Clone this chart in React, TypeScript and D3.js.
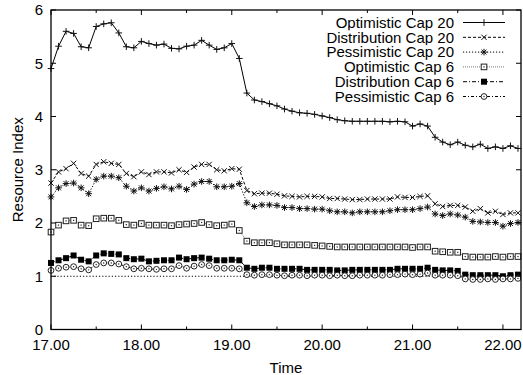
import React from 'react';
import * as d3 from 'd3';

// ---- data (5-minute samples starting at 17.00) ----
const startHour = 17;
const stepHours = 5 / 60;

const optimisticCap20 = [
  4.90, 5.32, 5.60, 5.56, 5.31, 5.29, 5.69, 5.74, 5.76, 5.57, 5.31, 5.29, 5.41, 5.37, 5.34, 5.36,
  5.28, 5.27, 5.32, 5.34, 5.43, 5.34, 5.26, 5.29, 5.37, 5.09,
  4.44, 4.31, 4.28, 4.24, 4.20, 4.14, 4.10, 4.07, 4.06, 4.04, 4.01, 3.98, 3.94, 3.92, 3.91, 3.91,
  3.91, 3.91, 3.91, 3.90, 3.91, 3.90, 3.82, 3.86, 3.82, 3.61, 3.52, 3.47, 3.52, 3.46, 3.43, 3.48,
  3.40, 3.43, 3.40, 3.45, 3.40,
];
const distributionCap20 = [
  2.75, 2.96, 3.02, 3.12, 2.93, 2.88, 3.10, 3.15, 3.12, 3.10, 2.93, 2.87, 2.96, 2.91, 2.96, 2.96,
  2.94, 3.00, 2.95, 3.05, 3.10, 3.10, 3.00, 2.98, 3.02, 3.01,
  2.61, 2.55, 2.56, 2.56, 2.54, 2.51, 2.50, 2.49, 2.50, 2.50, 2.49, 2.46, 2.46, 2.45, 2.44, 2.44,
  2.45, 2.45, 2.45, 2.45, 2.49, 2.48, 2.48, 2.50, 2.51, 2.36, 2.31, 2.33, 2.33, 2.30, 2.22, 2.27,
  2.19, 2.22, 2.16, 2.19, 2.19,
];
const pessimisticCap20 = [
  2.49, 2.66, 2.74, 2.75, 2.66, 2.55, 2.82, 2.88, 2.88, 2.85, 2.69, 2.60, 2.66, 2.60, 2.65, 2.68,
  2.64, 2.69, 2.63, 2.73, 2.78, 2.78, 2.68, 2.68, 2.69, 2.74,
  2.38, 2.31, 2.34, 2.34, 2.33, 2.29, 2.29, 2.27, 2.27, 2.26, 2.26, 2.23, 2.21, 2.21, 2.19, 2.21,
  2.21, 2.21, 2.21, 2.23, 2.25, 2.25, 2.25, 2.27, 2.30, 2.17, 2.14, 2.17, 2.15, 2.11, 2.03, 2.02,
  2.01, 2.01, 1.94, 1.99, 2.01,
];
const optimisticCap6 = [
  1.83, 1.96, 2.04, 2.05, 1.96, 1.95, 2.08, 2.09, 2.09, 2.05, 1.97, 1.96, 1.99, 1.96, 1.96, 1.96,
  1.95, 1.97, 1.98, 1.99, 2.01, 1.97, 1.95, 1.96, 1.98, 1.86,
  1.66, 1.63, 1.63, 1.63, 1.61, 1.59, 1.59, 1.59, 1.59, 1.58, 1.57, 1.56, 1.55, 1.55, 1.55, 1.55,
  1.55, 1.55, 1.55, 1.55, 1.55, 1.55, 1.54, 1.55, 1.55, 1.47, 1.46, 1.45, 1.45, 1.37, 1.36, 1.36,
  1.36, 1.37, 1.36, 1.37, 1.37,
];
const distributionCap6 = [
  1.25, 1.30, 1.34, 1.39, 1.31, 1.28, 1.39, 1.43, 1.42, 1.41, 1.34, 1.32, 1.33, 1.28, 1.29, 1.30,
  1.30, 1.35, 1.32, 1.34, 1.35, 1.33, 1.30, 1.30, 1.31, 1.30,
  1.16, 1.14, 1.16, 1.16, 1.14, 1.14, 1.14, 1.14, 1.12, 1.12, 1.12, 1.12, 1.11, 1.11, 1.12, 1.12,
  1.12, 1.12, 1.12, 1.12, 1.14, 1.14, 1.14, 1.14, 1.16, 1.12, 1.11, 1.11, 1.10, 1.03, 1.02, 1.02,
  1.02, 1.02, 1.00, 1.02, 1.03,
];
const pessimisticCap6 = [
  1.11, 1.15, 1.17, 1.18, 1.14, 1.12, 1.22, 1.25, 1.25, 1.23, 1.18, 1.14, 1.15, 1.14, 1.13, 1.14,
  1.14, 1.20, 1.15, 1.19, 1.22, 1.20, 1.15, 1.15, 1.15, 1.14,
  1.03, 1.02, 1.03, 1.03, 1.02, 1.01, 1.02, 1.02, 1.01, 1.02, 1.02, 1.01, 1.02, 1.01, 1.01, 1.02,
  1.02, 1.02, 1.02, 1.03, 1.03, 1.04, 1.03, 1.04, 1.06, 1.02, 1.02, 1.02, 1.01, 0.95, 0.94, 0.94,
  0.95, 0.94, 0.95, 0.95, 0.96,
];
const referenceLevel = 1;

const seriesNames = [
  'Optimistic Cap 20',
  'Distribution Cap 20',
  'Pessimistic Cap 20',
  'Optimistic Cap 6',
  'Distribution Cap 6',
  'Pessimistic Cap 6',
];
const xTicks = [17, 18, 19, 20, 21, 22];
const xMinorTicks = [17.5, 18.5, 19.5, 20.5, 21.5];
const yTicks = [0, 1, 2, 3, 4, 5, 6];
const xDomain = [17, 22.2];
const yDomain = [0, 6];

type MarkerKind = 'plus' | 'cross' | 'star' | 'square' | 'fsquare' | 'circle';

const styles: { dash: string | null; color: string; marker: MarkerKind }[] = [
  { dash: null, color: '#000', marker: 'plus' },
  { dash: '3,2', color: '#000', marker: 'cross' },
  { dash: '1.2,1.8', color: '#000', marker: 'star' },
  { dash: '1,1', color: '#777', marker: 'square' },
  { dash: '4,2,1,2', color: '#000', marker: 'fsquare' },
  { dash: '3,2,1,2', color: '#000', marker: 'circle' },
];
const seriesValues = [
  optimisticCap20,
  distributionCap20,
  pessimisticCap20,
  optimisticCap6,
  distributionCap6,
  pessimisticCap6,
];

const FONT = '"Liberation Sans", Arial, Helvetica, sans-serif';

function Marker({ kind, x, y }: { kind: MarkerKind; x: number; y: number }) {
  const s = 3.3;
  const st = { stroke: '#111', strokeWidth: 1, fill: 'none' } as const;
  switch (kind) {
    case 'plus':
      return (
        <path d={`M${x - s},${y}H${x + s}M${x},${y - s}V${y + s}`} {...st} />
      );
    case 'cross':
      return (
        <path d={`M${x - s * 0.8},${y - s * 0.8}L${x + s * 0.8},${y + s * 0.8}M${x - s * 0.8},${y + s * 0.8}L${x + s * 0.8},${y - s * 0.8}`} {...st} />
      );
    case 'star':
      return (
        <path d={`M${x - s},${y}H${x + s}M${x},${y - s}V${y + s}M${x - s * 0.75},${y - s * 0.75}L${x + s * 0.75},${y + s * 0.75}M${x - s * 0.75},${y + s * 0.75}L${x + s * 0.75},${y - s * 0.75}`} {...st} />
      );
    case 'square':
      return (
        <g>
          <rect x={x - 2.8} y={y - 2.8} width={5.6} height={5.6} fill="#fff" stroke="#222" strokeWidth={1} />
          <rect x={x - 0.6} y={y - 0.6} width={1.2} height={1.2} fill="#222" />
        </g>
      );
    case 'fsquare':
      return <rect x={x - 3} y={y - 3} width={6} height={6} fill="#000" />;
    case 'circle':
      return (
        <g>
          <circle cx={x} cy={y} r={2.9} fill="#fff" stroke="#222" strokeWidth={1} />
          <circle cx={x} cy={y} r={0.7} fill="#222" />
        </g>
      );
  }
  return null;
}

export default function App() {
  const W = 523;
  const H = 375;
  const left = 51;
  const right = 521;
  const top = 10;
  const bottom = 329.5;

  const x = d3.scaleLinear().domain(xDomain).range([left, right]);
  const y = d3.scaleLinear().domain(yDomain).range([bottom, top]);

  const line = d3
    .line<number>()
    .x((_, i) => x(startHour + i * stepHours))
    .y((d) => y(d));

  const major = 5;
  const minor = 3;

  return (
    <svg
      width={W}
      height={H}
      style={{ position: 'absolute', left: 0, top: 0, background: '#fff' }}
      fontFamily={FONT}
    >
      <rect x={0} y={0} width={W} height={H} fill="#fff" />

      {/* reference line at 1 */}
      <line
        x1={x(xDomain[0])}
        x2={x(xDomain[1])}
        y1={y(referenceLevel)}
        y2={y(referenceLevel)}
        stroke="#000"
        strokeWidth={1}
        strokeDasharray="1.2,2"
      />

      {/* series lines */}
      {seriesValues.map((vals, si) => (
        <path
          key={'l' + si}
          d={line(vals) || ''}
          fill="none"
          stroke={styles[si].color}
          strokeWidth={1}
          strokeDasharray={styles[si].dash || undefined}
        />
      ))}
      {/* series markers */}
      {seriesValues.map((vals, si) => (
        <g key={'m' + si}>
          {vals.map((v, i) => (
            <Marker key={i} kind={styles[si].marker} x={x(startHour + i * stepHours)} y={y(v)} />
          ))}
        </g>
      ))}

      {/* frame */}
      <rect
        x={left}
        y={top}
        width={right - left}
        height={bottom - top}
        fill="none"
        stroke="#000"
        strokeWidth={1.3}
      />

      {/* x ticks */}
      {xTicks.map((t) => (
        <g key={'xt' + t}>
          <line x1={x(t)} x2={x(t)} y1={bottom} y2={bottom - major} stroke="#000" />
          <line x1={x(t)} x2={x(t)} y1={top} y2={top + major} stroke="#000" />
          <text x={x(t)} y={350} textAnchor="middle" fontSize={15} fill="#000">
            {t.toFixed(2)}
          </text>
        </g>
      ))}
      {xMinorTicks.map((t) => (
        <g key={'xm' + t}>
          <line x1={x(t)} x2={x(t)} y1={bottom} y2={bottom - minor} stroke="#000" />
          <line x1={x(t)} x2={x(t)} y1={top} y2={top + minor} stroke="#000" />
        </g>
      ))}

      {/* y ticks */}
      {yTicks.map((t) => (
        <g key={'yt' + t}>
          <line x1={left} x2={left + major} y1={y(t)} y2={y(t)} stroke="#000" />
          <line x1={right} x2={right - major} y1={y(t)} y2={y(t)} stroke="#000" />
          <text x={43} y={y(t) + 5.3} textAnchor="end" fontSize={15} fill="#000">
            {t}
          </text>
        </g>
      ))}

      {/* axis titles */}
      <text x={(left + right) / 2} y={373} textAnchor="middle" fontSize={15} fill="#000">
        Time
      </text>
      <text
        transform={`translate(23,${(top + bottom) / 2}) rotate(-90)`}
        textAnchor="middle"
        fontSize={15}
        fill="#000"
      >
        Resource Index
      </text>

      {/* legend */}
      {seriesNames.map((name, i) => {
        const cy = 22.5 + i * 14.8;
        return (
          <g key={'lg' + i}>
            <rect x={290} y={cy - 7} width={225} height={14} fill="#fff" />
            <text x={454} y={cy + 5.3} textAnchor="end" fontSize={15} fill="#000">
              {name}
            </text>
            <line
              x1={463}
              x2={505}
              y1={cy}
              y2={cy}
              stroke={styles[i].color}
              strokeWidth={1}
              strokeDasharray={styles[i].dash || undefined}
            />
            <Marker kind={styles[i].marker} x={484} y={cy} />
          </g>
        );
      })}
    </svg>
  );
}
